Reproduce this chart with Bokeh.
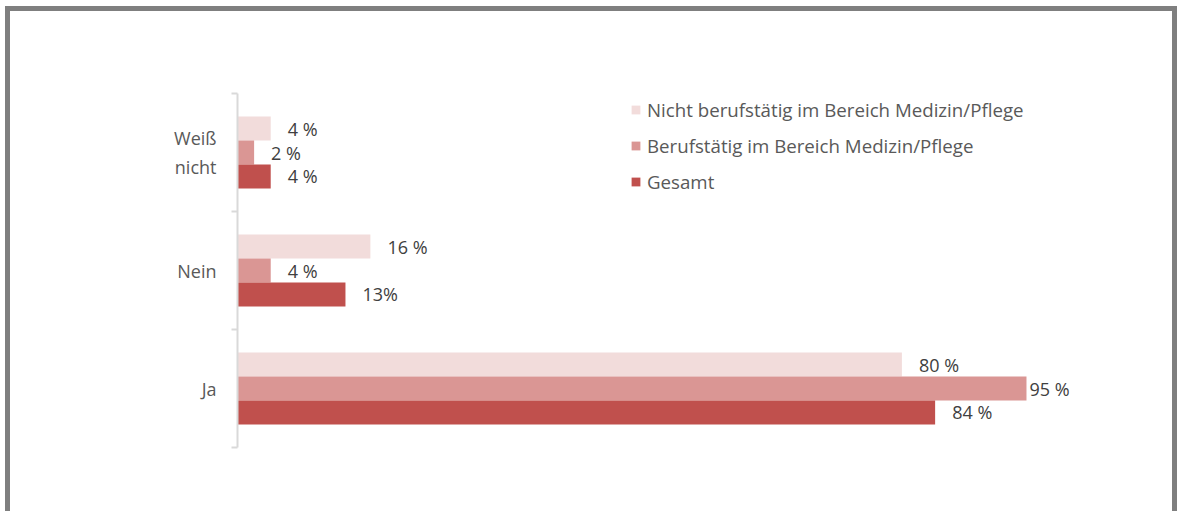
from bokeh.plotting import figure
from bokeh.models import Range1d, FixedTicker, ColumnDataSource, Legend, LegendItem, InlineStyleSheet
from bokeh.core.properties import value
from bokeh.embed import file_html
from bokeh.resources import INLINE

# ---- data ----
categories = ["Ja", "Nein", "Weiß nicht"]          # bottom -> top
category_labels = ["Ja", "Nein", "Weiß\nnicht"]
series_names = [
    "Nicht berufstätig im Bereich Medizin/Pflege",
    "Berufstätig im Bereich Medizin/Pflege",
    "Gesamt",
]
nicht_beruf = [80, 16, 4]
beruf = [95, 4, 2]
gesamt = [84, 13, 4]
nicht_beruf_labels = ["80 %", "16 %", "4 %"]
beruf_labels = ["95 %", "4 %", "2 %"]
gesamt_labels = ["84 %", "13%", "4 %"]

colors = ["#F2DCDB", "#DA9694", "#C0504D"]
FONT = "Open Sans"
FS = "18px"
LEG_FS = "18.7px"

p = figure(
    width=1177, height=511,
    x_range=Range1d(0, 112.1), y_range=Range1d(0, 3),
    output_backend="svg", toolbar_location=None,
    min_border_left=237, min_border_right=9,
    min_border_top=93, min_border_bottom=64,
)
p.stylesheets = [InlineStyleSheet(css="""
:host::after {
  content: '';
  position: absolute;
  left: 5px; top: 6px; right: 0px; bottom: 0px;
  border-left: 5px solid #7f7f7f;
  border-top: 5px solid #7f7f7f;
  border-right: 5px solid #7f7f7f;
  pointer-events: none;
  box-sizing: border-box;
}
""")]
p.outline_line_color = None
p.xaxis.visible = False
p.xgrid.visible = False
p.ygrid.visible = False

yax = p.yaxis[0]
yax.ticker = FixedTicker(ticks=[i + 0.5 for i in range(len(categories))],
                         minor_ticks=list(range(len(categories) + 1)))
yax.major_label_overrides = {i + 0.5: lab for i, lab in enumerate(category_labels)}
yax.major_tick_line_color = None
yax.major_tick_out = 0
yax.major_tick_in = 0
yax.minor_tick_out = 6
yax.minor_tick_in = 0
yax.minor_tick_line_color = "#D9D9D9"
yax.minor_tick_line_width = 2
yax.axis_line_color = "#D9D9D9"
yax.axis_line_width = 2
yax.major_label_standoff = 15
yax.major_label_text_font = FONT
yax.major_label_text_font_size = FS
yax.major_label_text_color = "#595959"

bar_h = 0.203
series = [
    (nicht_beruf, nicht_beruf_labels, bar_h),
    (beruf, beruf_labels, 0.0),
    (gesamt, gesamt_labels, -bar_h),
]
vmax = max(max(s[0]) for s in series)
items = []
for (vals, labs, dodge), col, name in zip(series, colors, series_names):
    ys = [i + 0.5 + dodge for i in range(len(categories))]
    dx = [3 if v == vmax else 17 for v in vals]
    src = ColumnDataSource(dict(y=ys, v=vals, lab=labs, dx=dx))
    r = p.hbar(y="y", left=0, right="v", height=bar_h, source=src,
               fill_color=col, line_color=None)
    p.text(x="v", y="y", text="lab", x_offset="dx", source=src,
           text_baseline="middle", text_align="left",
           text_font=value(FONT), text_font_size=FS, text_color="#404040")
    items.append(LegendItem(label=name, renderers=[r]))

legend = Legend(items=items, location=(393, 253),
                glyph_width=11, glyph_height=11, label_standoff=6,
                label_height=26, spacing=10, padding=0, margin=0,
                border_line_color=None, background_fill_alpha=0,
                label_text_font=FONT, label_text_font_size=LEG_FS,
                label_text_color="#595959")
p.add_layout(legend, "center")

open("out.html", "w").write(file_html(p, INLINE))
